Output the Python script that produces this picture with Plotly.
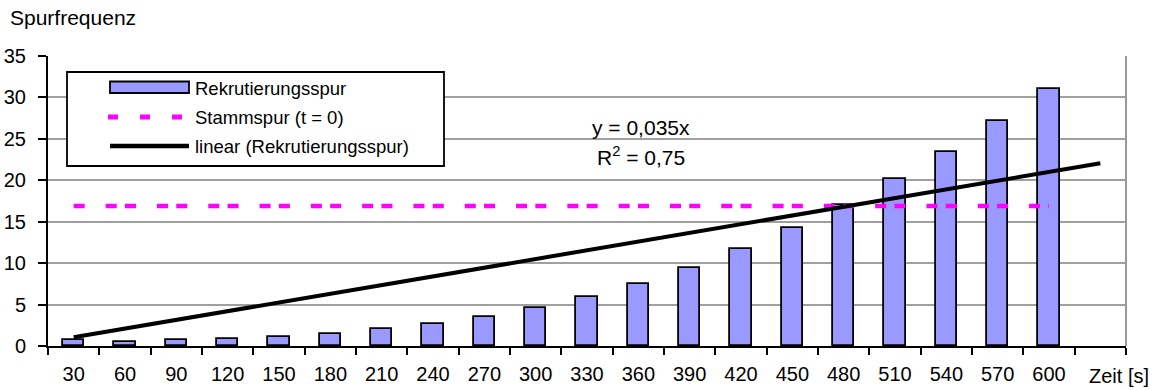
import plotly.graph_objects as go

# Zeitpunkte [s] und gemessene Spurfrequenzen
zeit = [30, 60, 90, 120, 150, 180, 210, 240, 270, 300,
        330, 360, 390, 420, 450, 480, 510, 540, 570, 600]
rekrutierung = [0.7, 0.5, 0.7, 0.8, 1.1, 1.5, 2.0, 2.6, 3.5, 4.6,
                5.9, 7.5, 9.4, 11.7, 14.2, 17.0, 20.1, 23.4, 27.1, 31.0]
stammspur = 16.9          # Referenzwert bei t = 0
steigung = 0.035          # lineare Regression y = 0,035x
bestimmtheit = 0.75
trend_x = [30, 630]       # Trend inkl. einer Periode Vorhersage
y_ticks = [0, 5, 10, 15, 20, 25, 30, 35]

FONT = "Liberation Sans, Arial, sans-serif"
FS_TICK = 20
FS_LEG = 18.5
FS_TXT = 21

# Plotbereich in Pixeln (für Legende/Beschriftungen)
W, H = 1158, 390
ML, MR, MT, MB = 48, 32, 56, 44
L, R, T, B = ML, W - MR, MT, H - MB


def px(p):
    return (p - L) / (R - L)


def py(p):
    return (B - p) / (B - T)


fig = go.Figure()

fig.add_trace(go.Bar(
    x=zeit, y=rekrutierung, width=12.3,
    marker=dict(color="#9999FF", line=dict(color="black", width=1.8)),
    name="Rekrutierungsspur", showlegend=False,
))

fig.add_trace(go.Scatter(
    x=zeit, y=[stammspur] * len(zeit), mode="lines",
    line=dict(color="#FF00FF", width=4.5, dash="11px,21px,11px,8.3px"),
    name="Stammspur (t = 0)", showlegend=False,
))

fig.add_trace(go.Scatter(
    x=trend_x, y=[steigung * t for t in trend_x], mode="lines",
    line=dict(color="black", width=4),
    name="linear (Rekrutierungsspur)", showlegend=False,
))

shapes = [
    # rechter Rahmen des Plotbereichs
    dict(type="line", xref="paper", yref="paper", x0=1, x1=1, y0=0, y1=1,
         line=dict(color="#999999", width=2)),
    # Legendenrahmen
    dict(type="rect", xref="paper", yref="paper",
         x0=px(67), x1=px(444), y0=py(166), y1=py(72),
         line=dict(color="black", width=1.8), fillcolor="white", layer="above"),
    # Legendensymbole
    dict(type="rect", xref="paper", yref="paper",
         x0=px(110), x1=px(189), y0=py(93), y1=py(81.5),
         line=dict(color="black", width=1.8), fillcolor="#9999FF", layer="above"),
    dict(type="line", xref="paper", yref="paper",
         x0=px(108), x1=px(183), y0=py(117), y1=py(117),
         line=dict(color="#FF00FF", width=5, dash="10px,22px"), layer="above"),
    dict(type="line", xref="paper", yref="paper",
         x0=px(110), x1=px(189), y0=py(146), y1=py(146),
         line=dict(color="black", width=4.5), layer="above"),
]

legend_text = ["Rekrutierungsspur", "Stammspur (t = 0)", "linear (Rekrutierungsspur)"]
legend_y = [88, 117, 146]

annotations = []
for txt, yy in zip(legend_text, legend_y):
    annotations.append(dict(text=txt, xref="paper", yref="paper", x=px(193), y=py(yy),
                            xanchor="left", yanchor="middle", showarrow=False,
                            font=dict(family=FONT, size=FS_LEG, color="black")))

annotations += [
    dict(text=f"y = {str(steigung).replace('.', ',')}x", xref="paper", yref="paper",
         x=px(641), y=py(127), xanchor="center", yanchor="middle", showarrow=False,
         font=dict(family=FONT, size=FS_TXT, color="black")),
    dict(text=f"R<sup>2</sup> = {str(bestimmtheit).replace('.', ',')}", xref="paper", yref="paper",
         x=px(641), y=py(156), xanchor="center", yanchor="middle", showarrow=False,
         font=dict(family=FONT, size=FS_TXT, color="black")),
    dict(text="Spurfrequenz", xref="paper", yref="paper",
         x=px(8), y=py(18), xanchor="left", yanchor="middle", showarrow=False,
         font=dict(family=FONT, size=FS_TXT, color="black")),
    dict(text="Zeit [s]", xref="paper", yref="paper",
         x=px(1119), y=py(376), xanchor="center", yanchor="middle", showarrow=False,
         font=dict(family=FONT, size=FS_TICK, color="black")),
]

fig.update_layout(
    width=W, height=H,
    margin=dict(l=ML, r=MR, t=MT, b=MB, pad=0, autoexpand=False),
    paper_bgcolor="white", plot_bgcolor="white",
    font=dict(family=FONT, size=FS_TICK, color="black"),
    shapes=shapes, annotations=annotations,
    showlegend=False,
    bargap=0,
)

fig.update_xaxes(
    range=[15, 645], tickmode="array", tickvals=zeit, ticktext=[str(t) for t in zeit],
    ticks="", showgrid=False, zeroline=False, automargin=False,
    showline=True, linecolor="black", linewidth=2,
    ticklabelstandoff=9,
    tickfont=dict(family=FONT, size=FS_TICK, color="black"),
    minor=dict(tick0=15, dtick=30, ticks="outside", ticklen=7, tickwidth=2,
               tickcolor="black", showgrid=False),
)

fig.update_yaxes(
    range=[0, 35], tickmode="array", tickvals=y_ticks,
    ticks="outside", ticklen=8, tickwidth=2, tickcolor="black",
    showgrid=True, gridcolor="#A0A0A0", gridwidth=1.5, zeroline=False,
    showline=True, linecolor="black", linewidth=2, automargin=False,
    ticklabelstandoff=8,
    tickfont=dict(family=FONT, size=FS_TICK, color="black"),
)

fig.write_html("out.html")
